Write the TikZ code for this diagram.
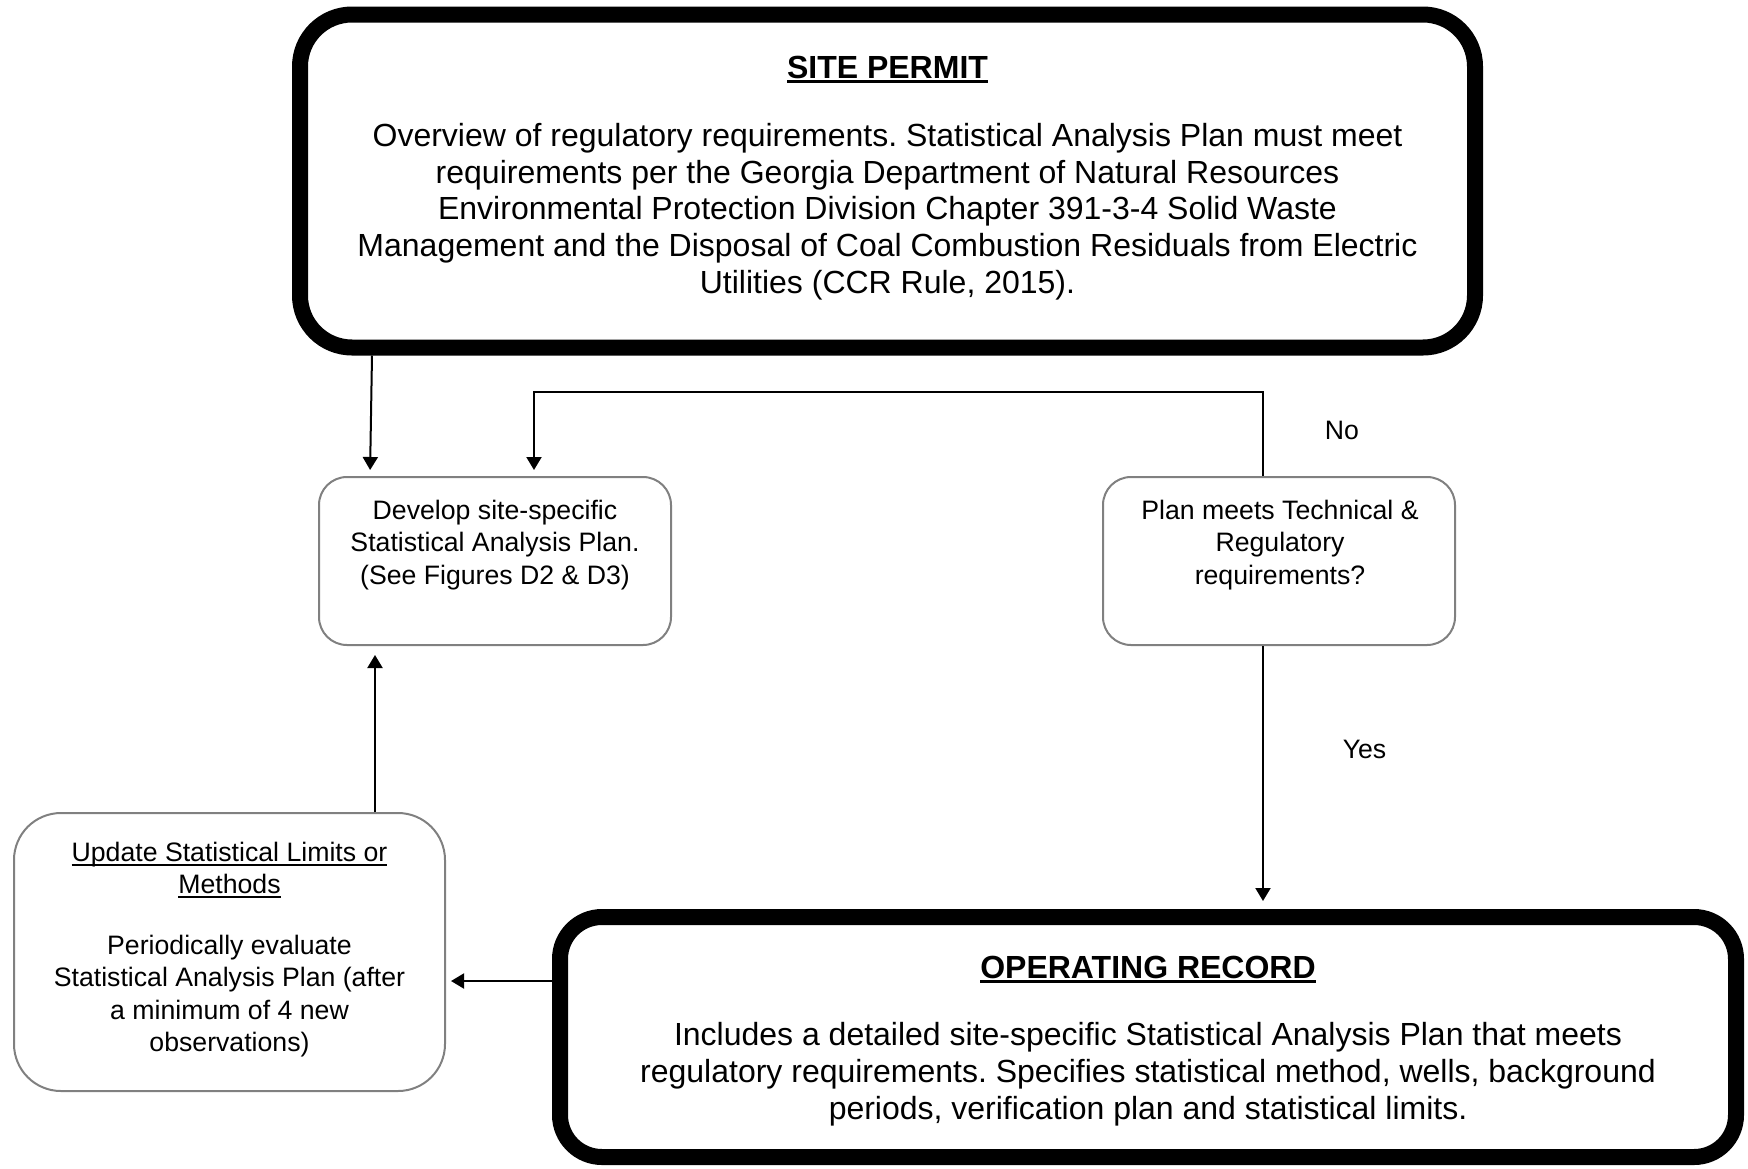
\documentclass[tikz,border=0pt]{standalone}
\usepackage{fontspec}
\setmainfont{Liberation Sans}
\usetikzlibrary{arrows.meta}
\definecolor{boxgray}{RGB}{128,128,128}
\newcommand{\myul}[3]{\setbox0=\hbox{#3}\rlap{\vrule height -#1 depth \dimexpr #1+#2\relax width \wd0}\box0}
\frenchspacing
\begin{document}
\begin{tikzpicture}[x=1pt,y=-1pt,
  bigbox/.style={draw, line width=16pt, rounded corners=#1, inner sep=0pt, outer sep=8pt},
  smallbox/.style={draw=boxgray, line width=2pt, rounded corners=#1, inner sep=0pt, outer sep=1pt},
  conn/.style={draw, line width=2pt, -{Triangle[width=15pt,length=13pt]}},
  txt/.style={inner sep=0pt, anchor=north, align=center, execute at begin node={\rule{0pt}{30pt}}},
  lab/.style={inner sep=0pt, anchor=base},
  fA/.style={font=\fontsize{32}{36.8}\selectfont\frenchspacing},
  fB/.style={font=\fontsize{26.67}{32.3}\selectfont\frenchspacing}]
\useasboundingbox (0,0) rectangle (1748,1168);
% boxes
\node[bigbox=52pt, minimum width=1175pt, minimum height=333pt] (sp) at (887.5,181) {};
\node[bigbox=42pt, minimum width=1176pt, minimum height=240pt] (op) at (1148,1037) {};
\node[smallbox=28pt, minimum width=352pt, minimum height=168pt] (dev) at (495,561) {};
\node[smallbox=28pt, minimum width=352pt, minimum height=168pt] (plan) at (1279,561) {};
\node[smallbox=47pt, minimum width=431pt, minimum height=278pt] (upd) at (229.5,952) {};
% texts
\node[lab, fA] (sptitle) at (887.5,78) {\bfseries\myul{2pt}{3pt}{SITE PERMIT}};
\node[txt, fA] (sptext) at (887.5,123) {Overview of regulatory requirements. Statistical Analysis Plan must meet\\
requirements per the Georgia Department of Natural Resources\\
Environmental Protection Division Chapter 391-3-4 Solid Waste\\
Management and the Disposal of Coal Combustion Residuals from Electric\\
Utilities (CCR Rule, 2015).};
\node[lab, fA] (optitle) at (1148,978) {\bfseries\myul{2pt}{3pt}{OPERATING RECORD}};
\node[txt, fA] (optext) at (1148,1022) {Includes a detailed site-specific Statistical Analysis Plan that meets\\
regulatory requirements. Specifies statistical method, wells, background\\
periods, verification plan and statistical limits.};
\node[txt, fB] (devtext) at (495,500) {Develop site-specific\\Statistical Analysis Plan.\\(See Figures D2 \& D3)};
\node[txt, fB] (plantext) at (1280,500) {Plan meets Technical \&\\Regulatory\\requirements?};
\node[txt, fB] (updtext) at (229.5,841.5) {\myul{2.5pt}{2pt}{Update Statistical Limits or}\\\myul{2.5pt}{2pt}{Methods}\\[29pt]Periodically evaluate\\Statistical Analysis Plan (after\\a minimum of 4 new\\observations)};
\node[lab, fB] (no) at (1342,439.5) {No};
\node[lab, fB] (yes) at (1364.5,758.5) {Yes};
% connectors
\draw[conn, shorten >=6pt] ([xshift=-515.5pt]sp.south) -- ([xshift=-125pt]dev.north);
\draw[conn, shorten >=6pt] ([xshift=-16pt]plan.north) -- ++(0,-84) -| ([xshift=39pt]dev.north);
\draw[conn, shorten >=8pt] ([xshift=-16pt]plan.south) -- ([xshift=115pt]op.north);
\draw[conn, shorten >=5pt] ([yshift=56pt]op.west) -- ([yshift=-29pt]upd.east);
\draw[conn, shorten >=9pt] ([xshift=145.5pt]upd.north) -- ([xshift=-120pt]dev.south);
\end{tikzpicture}
\end{document}
